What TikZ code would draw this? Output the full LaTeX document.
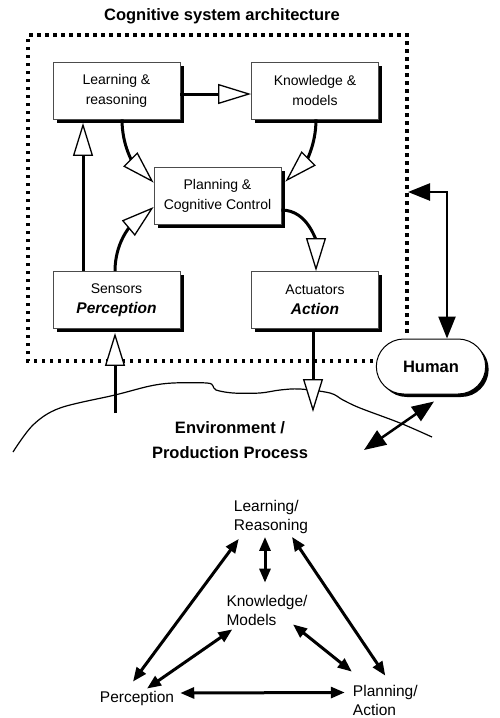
\documentclass[tikz,border=0pt]{standalone}
\usepackage{fontspec}
\setmainfont{Liberation Sans}
\usepackage{tikz}
\usetikzlibrary{positioning, arrows.meta, shapes.misc, shadows}

\newcommand{\boxfont}{\fontsize{14}{20}\selectfont}
\newcommand{\headfont}{\fontsize{16.5}{25}\selectfont\bfseries}
\newcommand{\trifont}{\fontsize{15.5}{19}\selectfont}

\tikzset{
    block/.style={draw=black!70, line width=0.8pt, fill=white, minimum width=127pt, minimum height=57pt, inner sep=0pt, align=center, font=\boxfont, drop shadow={shadow xshift=3.5pt, shadow yshift=-3.5pt, opacity=1, fill=black}},
    openarrow/.style={-{Triangle[length=33pt, width=20pt, fill=white, line width=1.3pt 0]}, line width=3pt},
    humanarrow/.style={{Triangle[length=22pt, width=17pt]}-{Triangle[length=22pt, width=17pt]}, line width=2.5pt},
    triarrow/.style={{Triangle[length=14pt, width=11pt]}-{Triangle[length=14pt, width=11pt]}, line width=3pt},
    trinode/.style={inner sep=0pt, align=left, font=\trifont}
}

\begin{document}
\begin{tikzpicture}[x=1pt, y=1pt]
                \useasboundingbox (0, 0) rectangle (499, -718);

                \node[font=\headfont] (title) at (222, -16) {Cognitive system architecture};
                \draw[line width=3.5pt, dash pattern=on 3.5pt off 4.5pt] (373, -361) -- (28, -361) -- (28, -35) -- (407, -35) -- (407, -335);

                \node[block] (learn) at (116.5, -90.5) {Learning \&\\reasoning};
                \node[block] (know) at (315, -90.5) {Knowledge \&\\models};
                \node[block] (plan) at (217.5, -195.5) {Planning \&\\Cognitive Control};
                \node[block] (sens) at (116.5, -300) {Sensors\\{\fontsize{15.5}{20}\selectfont\bfseries\itshape Perception}};
                \node[block] (act) at (315, -300) {Actuators\\{\fontsize{15.5}{20}\selectfont\bfseries\itshape Action}};
                \node[rounded rectangle, draw=black, line width=1pt, fill=white, minimum width=116pt, minimum height=55pt, font=\headfont, drop shadow={shadow xshift=3pt, shadow yshift=-3pt, opacity=1, fill=black}] (human) at (431, -366.5) {Human};

                \draw[line width=1.2pt] plot[smooth, tension=0.55] coordinates {(13, -452) (33, -425) (60, -408) (115, -395) (150, -386) (173, -383) (207, -383) (213, -386) (216, -390) (233, -393) (260, -393) (280, -390) (300, -389) (330, -393) (343, -400) (360, -408) (400, -423) (432, -437)};
                \node[font=\headfont, align=center] (env) at (230, -440.5) {Environment /\\Production Process};

                \coordinate (sensenv) at (115, -413);
                \coordinate (actenv) at (313, -412);
                \coordinate (frameport) at (408, -192);
                \coordinate (envhuman) at (364, -450);

                \draw[openarrow] ([yshift=-3.5pt]learn.east) -- ([yshift=-3.5pt]know.west);
                \draw[openarrow] ([xshift=5.5pt]learn.south) to[out=-90, in=135] ([yshift=-16pt]plan.north west);
                \draw[openarrow] ([xshift=1pt]know.south) to[out=-90, in=45] ([xshift=4pt, yshift=-15pt]plan.north east);
                \draw[openarrow] ([xshift=-1.5pt]sens.north) to[out=90, in=-140] ([yshift=-11.5pt]plan.west);
                \draw[openarrow] ([xshift=-33.5pt]sens.north) -- ([xshift=-33.5pt, yshift=-3.5pt]learn.south);
                \draw[openarrow] ([yshift=-14.5pt]plan.east) to[out=0, in=90] ([xshift=1pt]act.north);
                \draw[openarrow] ([xshift=-2pt]act.south) -- (actenv);
                \draw[openarrow] (sensenv) -- ([xshift=-1.5pt, yshift=-4pt]sens.south);

                \draw[humanarrow] (frameport) -| ([xshift=16pt]human.north);
                \draw[humanarrow] ([xshift=3pt, yshift=-7pt]human.south) -- (envhuman);

                \node[trinode] (lr) at (271, -517) {Learning/\\Reasoning};
                \node[trinode] (km) at (267, -610) {Knowledge/\\Models};
                \node[trinode, anchor=base] (perc) at (137, -702) {Perception};
                \node[trinode] (pa) at (385.3, -700) {Planning/\\Action};

                \draw[triarrow] ([xshift=-6pt, yshift=-3pt]lr.south) -- ([xshift=-2pt, yshift=12pt]km.north);
                \draw[triarrow] ([xshift=-4pt, yshift=9pt]perc.north) -- ([xshift=5pt, yshift=-5pt]lr.south west);
                \draw[triarrow] ([xshift=10pt, yshift=2pt]perc.north) -- ([xshift=6pt, yshift=-4pt]km.south west);
                \draw[triarrow] ([xshift=26pt, yshift=1pt]km.south) -- ([xshift=-1pt, yshift=13pt]pa.north west);
                \draw[triarrow] ([xshift=21pt, yshift=-3pt]lr.south) -- ([yshift=9pt]pa.north);
                \draw[triarrow] ([xshift=6pt, yshift=5pt]perc.east) -- ([xshift=-8pt, yshift=7.5pt]pa.west);
            \end{tikzpicture}
\end{document}
